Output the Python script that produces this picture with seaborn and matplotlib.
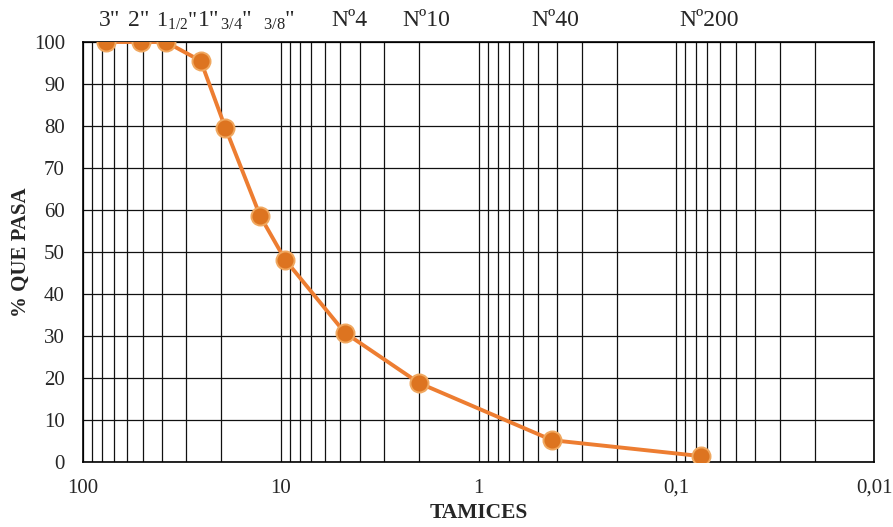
import pandas as pd
import seaborn as sns
import matplotlib.pyplot as plt
from matplotlib.ticker import FixedLocator, FixedFormatter, LogLocator, NullFormatter
import matplotlib.transforms as mtransforms

# sieve openings (mm) and percent passing
sieve_mm = [76.2, 50.8, 38.1, 25.4, 19.05, 12.7, 9.525, 4.75, 2.0, 0.425, 0.075]
pct_passing = [100, 100, 100, 95.5, 79.5, 58.5, 48.2, 30.8, 18.8, 5.2, 1.4]

# labels shown above the chart and the sieve each belongs to
top_labels = ['3"', '2"', r'1$\mathregular{_{1/2}}$"', '1"', r'$\mathregular{{}_{3/4}}$"',
              r'$\mathregular{{}_{3/8}}$"', 'Nº4', 'Nº10', 'Nº40', 'Nº200']
top_label_mm = [76.2, 50.8, 38.1, 25.4, 19.05, 9.525, 4.75, 2.0, 0.425, 0.075]
label_nudge = [-8, -13, -10, -3, -5, -22, -13, -17, -21, -22]  # pixels, left edge vs sieve
label_size = [17, 17, 16, 17, 17, 17, 17, 17, 17, 17]

xticks = [100, 10, 1, 0.1, 0.01]
xtick_labels = ['100', '10', '1', '0,1', '0,01']

df = pd.DataFrame({'mm': sieve_mm, 'pct': pct_passing})

sns.set_style('white')
plt.rcParams['font.family'] = ['Liberation Serif', 'DejaVu Serif']
plt.rcParams['mathtext.fontset'] = 'custom'
plt.rcParams['mathtext.rm'] = 'Liberation Serif'

fig = plt.figure(figsize=(8.93, 5.27), dpi=100)
ax = fig.add_axes([0.093, 0.1233, 0.886, 0.797])

ax.set_xscale('log')
sns.lineplot(data=df, x='mm', y='pct', ax=ax, color='#ED7D31', linewidth=2.8,
             marker='o', markersize=13, markerfacecolor='#DD7420',
             markeredgecolor='#F0A860', markeredgewidth=1.4, zorder=5)

ax.set_xlim(100, 0.01)
ax.set_ylim(0, 100)
ax.set_yticks(range(0, 101, 10))
ax.xaxis.set_major_locator(FixedLocator(xticks))
ax.xaxis.set_major_formatter(FixedFormatter(xtick_labels))
ax.xaxis.set_minor_locator(LogLocator(base=10, subs=range(2, 10)))
ax.xaxis.set_minor_formatter(NullFormatter())

ax.grid(True, which='major', axis='both', color='#111111', linewidth=0.9)
ax.grid(True, which='minor', axis='x', color='#111111', linewidth=0.9)
ax.tick_params(axis='both', which='both', length=0, labelsize=15)
ax.tick_params(axis='x', pad=12)
ax.tick_params(axis='y', pad=13)
for s in ax.spines.values():
    s.set_color('black')
    s.set_linewidth(1.2)

ax.set_xlabel('TAMICES', fontsize=15.5, fontweight='bold', labelpad=4)
ax.set_ylabel('% QUE PASA', fontsize=15, fontweight='bold', labelpad=2)

trans = mtransforms.blended_transform_factory(ax.transData, ax.transAxes)
for lab, mm, dx, fs in zip(top_labels, top_label_mm, label_nudge, label_size):
    off = mtransforms.offset_copy(trans, fig=fig, x=dx, y=0, units='dots')
    ax.text(mm, 1.037, lab, transform=off, ha='left', va='baseline', fontsize=fs)

plt.savefig('out.png', dpi=100)
